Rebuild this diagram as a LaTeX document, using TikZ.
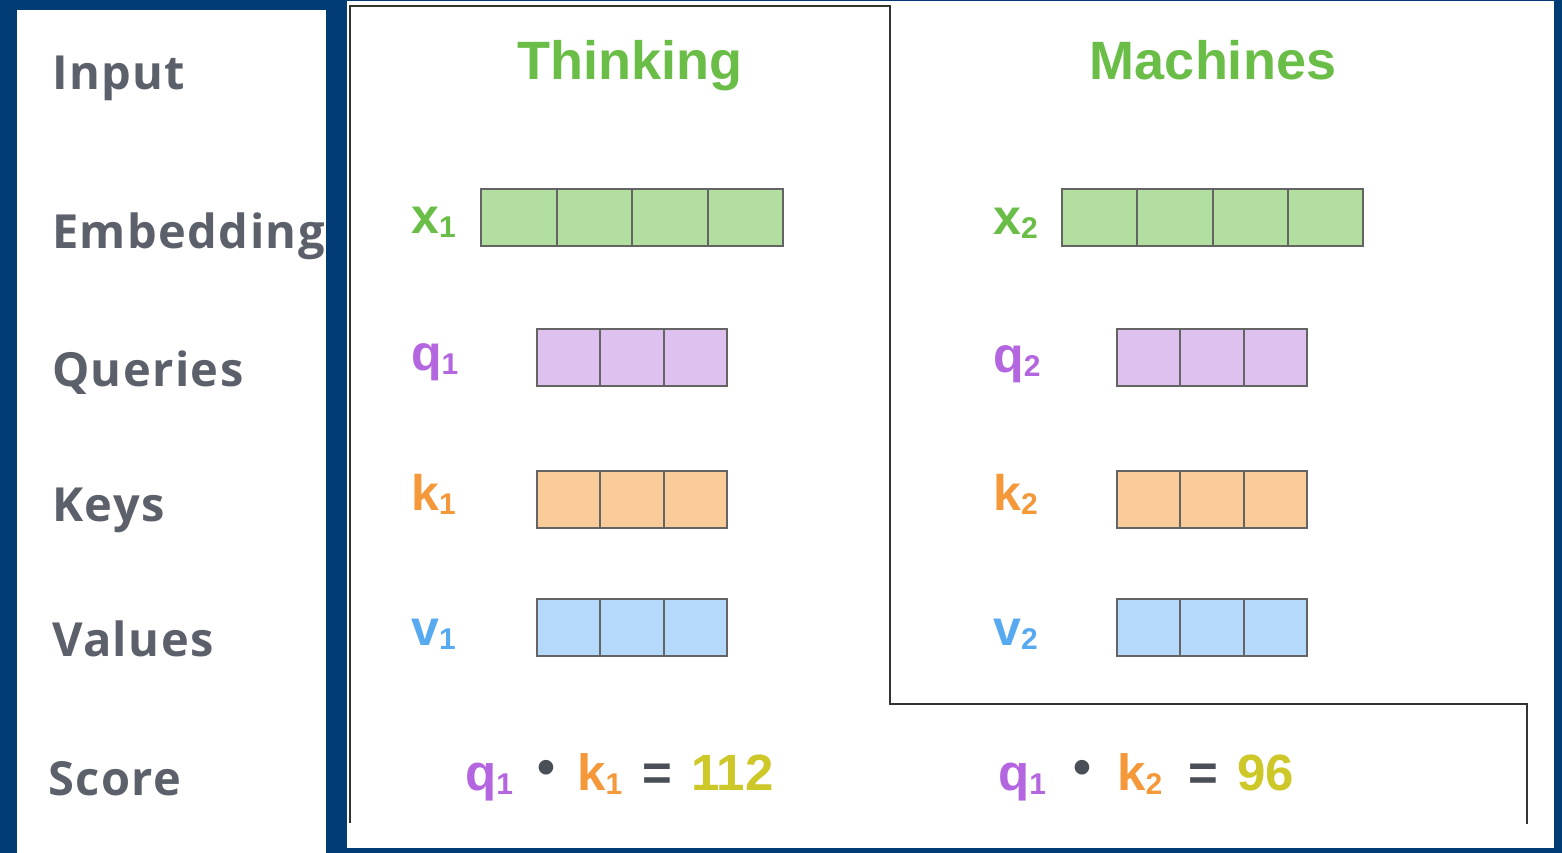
\documentclass[tikz,border=0pt]{standalone}
\usepackage{fontspec}
\setmainfont{Liberation Sans}
\newfontfamily\lblfont{Open Sans}[LetterSpace=3]
\definecolor{navy}{RGB}{2,60,116}
\definecolor{lblgray}{RGB}{92,96,106}
\definecolor{tgreen}{RGB}{106,190,72}
\definecolor{tpurple}{RGB}{180,102,224}
\definecolor{torange}{RGB}{245,152,58}
\definecolor{tblue}{RGB}{88,170,240}
\definecolor{tyellow}{RGB}{205,200,40}
\definecolor{dgray}{RGB}{74,79,87}
\definecolor{fgreen}{RGB}{178,222,160}
\definecolor{fpurple}{RGB}{223,193,240}
\definecolor{forange}{RGB}{249,204,154}
\definecolor{fblue}{RGB}{181,217,251}
\definecolor{cellgray}{RGB}{100,100,100}
\newcommand{\sbs}[1]{\raisebox{-4pt}{\fontsize{30}{30}\selectfont #1}}
\begin{document}
\begin{tikzpicture}[x=1pt,y=-1pt,
  rowlbl/.style={anchor=base west,inner sep=0pt,font=\lblfont\bfseries\fontsize{47}{50}\selectfont,text=lblgray},
  ttl/.style={anchor=base,inner sep=0pt,font=\bfseries\fontsize{54}{56}\selectfont,text=tgreen},
  veclbl/.style={anchor=base west,inner sep=0pt,font=\bfseries\fontsize{50}{52}\selectfont},
  scorepart/.style={anchor=base west,inner sep=0pt,font=\bfseries\fontsize{51}{53}\selectfont},
  cell/.style={draw=cellgray,line width=2pt,anchor=north west,inner sep=0pt,minimum height=57pt},
  frameline/.style={draw=black!80,line width=2.2pt}
]
\useasboundingbox (0,0) rectangle (1562,853);
\fill[navy] (0,0) rectangle (1562,853);
\fill[white] (17,10) rectangle (326,853);
\fill[white] (347,1) rectangle (1554,848);
% left labels (clipped by panel)
\begin{scope}
\clip (17,10) rectangle (326,853);
\node[rowlbl] (lInput) at (52,90) {Input};
\node[rowlbl] (lEmb) at (52,248) {Embedding};
\node[rowlbl] (lQ) at (52,386) {Queries};
\node[rowlbl] (lK) at (52,521) {Keys};
\node[rowlbl] (lV) at (52,656) {Values};
\node[rowlbl] (lS) at (48,795) {Score};
\end{scope}
% frame
\coordinate (f1) at (350,823);
\coordinate (f2) at (350,6);
\coordinate (f3) at (890,6);
\coordinate (f4) at (890,704);
\coordinate (f5) at (1527,704);
\coordinate (f6) at (1527,824);
\draw[frameline] (f1) -- (f2) -- (f3) -- (f4) -- (f5) -- (f6);
% titles
\node[ttl] (t1) at (630,80) {Thinking};
\node[ttl] (t2) at (1213,80) {Machines};
% vector labels
\node[veclbl,text=tgreen] (x1) at (411,233) {x\sbs{1}};
\node[veclbl,text=tpurple] (q1) at (411,370) {q\sbs{1}};
\node[veclbl,text=torange] (k1) at (411,510) {k\sbs{1}};
\node[veclbl,text=tblue] (v1) at (411,645) {v\sbs{1}};
\node[veclbl,text=tgreen] (x2) at (993,234) {x\sbs{2}};
\node[veclbl,text=tpurple] (q2) at (993,372) {q\sbs{2}};
\node[veclbl,text=torange] (k2) at (993,510) {k\sbs{2}};
\node[veclbl,text=tblue] (v2) at (993,645) {v\sbs{2}};
% cells
\foreach \i in {0,1,2,3}{
  \node[cell,fill=fgreen,minimum width=75.5pt] (xa\i) at ({480+75.5*\i},188) {};
  \node[cell,fill=fgreen,minimum width=75.25pt] (xb\i) at ({1061+75.25*\i},188) {};
}
\foreach \i in {0,1,2}{
  \node[cell,fill=fpurple,minimum width=63.3pt] (qa\i) at ({536+63.3*\i},328) {};
  \node[cell,fill=forange,minimum width=63.3pt] (ka\i) at ({536+63.3*\i},470) {};
  \node[cell,fill=fblue,minimum width=63.3pt] (va\i) at ({536+63.3*\i},598) {};
  \node[cell,fill=fpurple,minimum width=63.3pt] (qb\i) at ({1116+63.3*\i},328) {};
  \node[cell,fill=forange,minimum width=63.3pt] (kb\i) at ({1116+63.3*\i},470) {};
  \node[cell,fill=fblue,minimum width=63.3pt] (vb\i) at ({1116+63.3*\i},598) {};
}
% score 1
\node[scorepart,text=tpurple] (sq1) at (465,790) {q\sbs{1}};
\node[scorepart,text=dgray,anchor=center] (sd1) at (546,772) {•};
\node[scorepart,text=torange] (sk1) at (577,790) {k\sbs{1}};
\node[scorepart,text=dgray] (se1) at (642,790) {=};
\node[scorepart,text=tyellow] (sv1) at (691,790) {112};
% score 2
\node[scorepart,text=tpurple] (sq2) at (998,790) {q\sbs{1}};
\node[scorepart,text=dgray,anchor=center] (sd2) at (1082,772) {•};
\node[scorepart,text=torange] (sk2) at (1117,790) {k\sbs{2}};
\node[scorepart,text=dgray] (se2) at (1188,790) {=};
\node[scorepart,text=tyellow] (sv2) at (1237,790) {96};
\end{tikzpicture}
\end{document}
